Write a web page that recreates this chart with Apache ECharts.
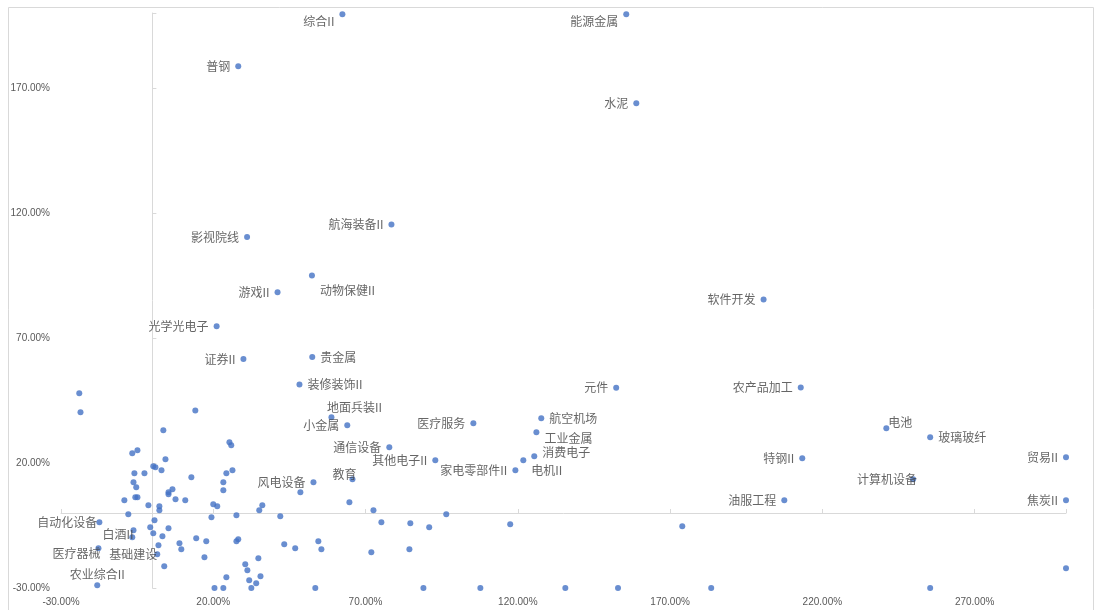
<!DOCTYPE html>
<html>
<head>
<meta charset="utf-8">
<title>行业散点</title>
<script src="https://cdn.jsdelivr.net/npm/echarts@6/dist/echarts.min.js"></script>
<style>
  html, body { margin: 0; padding: 0; background: #fff; }
  #chartScatter { width: 1096px; height: 610px; }
</style>
</head>
<body>
<div id="chartScatter"></div>
<script>
  'use strict'

  /******************** DATA (percent) ********************/
  var labelNames = ['综合II', '能源金属', '普钢', '水泥', '航海装备II', '影视院线', '动物保健II', '游戏II',
    '光学光电子', '证券II', '贵金属', '装修装饰II', '软件开发', '元件', '农产品加工', '地面兵装II',
    '小金属', '医疗服务', '航空机场', '工业金属', '通信设备', '消费电子', '其他电子II', '电机II',
    '家电零部件II', '教育', '风电设备', '自动化设备', '白酒II', '医疗器械', '基础建设', '农业综合II',
    '电池', '玻璃玻纤', '特钢II', '贸易II', '计算机设备', '油服工程', '焦炭II'];
  var labelX = [62.4, 155.6, 28.2, 158.9, 78.5, 31.1, 52.4, 41.1,
    21.1, 29.9, 52.5, 48.3, 200.7, 152.3, 212.9, 58.8,
    64.0, 105.4, 127.7, 126.1, 77.8, 125.4, 92.9, 121.8,
    119.2, 65.7, 52.9, -17.4, -6.2, -17.7, 1.6, -18.1,
    241.0, 255.4, 213.4, 300.0, 249.8, 207.5, 300.0];
  var labelY = [199.5, 199.5, 178.7, 163.9, 115.4, 110.4, 95.0, 88.3,
    74.7, 61.6, 62.4, 51.4, 85.4, 50.1, 50.2, 38.3,
    35.1, 35.9, 37.9, 32.3, 26.3, 22.7, 21.1, 21.1,
    17.1, 13.5, 12.3, -3.7, -6.9, -14.1, -16.5, -28.9,
    33.9, 30.3, 21.9, 22.3, 13.5, 5.1, 5.1];

  // unlabeled industries
  var otherX = [300, 255.4, 174, 20.4, 23.3, 32.5, 53.5, 89, 107.7, 135.6, 152.9, 183.5,
    64.7, 72.6, 75.2, 84.7, 90.9, 96.5, 117.5, 71.9, 84.4,
    14.1, 3.6, 25.3, 25.9, 4.3, 0.3, 1, 3, 26.3, 24.3, 12.8, 23.3, 6.6, 5.3, 5.3, 23.3,
    7.6, 10.8, 20, 21.3, 2.3, 2.3, 36.1, 35.1, 19.4, 27.6, 42, 0.7, -0.7, 5.3, 0.3, 3.3,
    14.4, 17.7, 28.2, 27.6, 8.9, 2, 9.5, 17.1, 3.9, 43.3, 46.9, 54.5, 55.5, 30.5, 31.2,
    34.8, 24.3, 35.5, 31.8, 34.1, 48.6,
    -24, -23.6, -6.6, -4.9, -5.9, -2.6, -6.2, -5.3, -5.6, -4.9, -9.2, -1.3, -7.9, -6.6];
  var otherY = [-22.1, -30, -5.3, -30, -30, -30, -30, -30, -30, -30, -30, -30,
    4.3, 1.1, -3.7, -4.1, -5.7, -0.5, -4.5, -15.7, -14.5,
    41, 33.1, 28.3, 27.1, 21.5, 18.7, 18.3, 17.1, 17.1, 15.9, 14.3, 12.3, 9.5, 8.3, 7.5, 9.1,
    5.5, 5.1, 3.5, 2.7, 2.7, 1.1, 3.1, 1.1, -1.7, -0.9, -1.3, -2.9, -5.7, -6.1, -8.1, -9.3,
    -10.1, -11.3, -10.5, -11.3, -12.1, -12.9, -14.5, -17.7, -21.3, -12.5, -14.1, -11.3, -14.5, -20.5, -22.9,
    -18.1, -25.7, -25.3, -26.9, -28.1, 8.3,
    47.9, 40.3, 23.9, 25.1, 15.9, 15.9, 12.3, 10.3, 6.3, 6.3, 5.1, 3.1, -0.5, -9.7];

  var xMin = -30, xMax = 300, yMin = -30, yMax = 200, step = 50;

  /******************** LABEL PLACEMENT ********************/
  // default: label on the left of the dot
  var labelLayout = {
    '综合II': ['left', [0, 7]],
    '能源金属': ['left', [0, 7]],
    '动物保健II': ['right', [0, 15]],
    '贵金属': ['right', [0, 0]],
    '装修装饰II': ['right', [0, 0]],
    '地面兵装II': ['top', [23, 4]],
    '航空机场': ['right', [0, 0]],
    '工业金属': ['right', [0, 6]],
    '消费电子': ['right', [0, -4]],
    '电机II': ['right', [0, 10]],
    '教育': ['left', [12, -5]],
    '自动化设备': ['left', [6, 0]],
    '白酒II': ['left', [8, 4]],
    '医疗器械': ['left', [10, 5]],
    '基础建设': ['left', [8, 0]],
    '农业综合II': ['top', [0, 3]],
    '电池': ['right', [-6, -6]],
    '玻璃玻纤': ['right', [0, 0]],
    '计算机设备': ['left', [12, 0]]
  };

  var labeled = labelNames.map(function (n, i) {
    var lay = labelLayout[n] || ['left', [0, 0]];
    return {
      name: n,
      value: [labelX[i], labelY[i]],
      label: { show: true, position: lay[0], offset: lay[1] }
    };
  });
  var others = otherX.map(function (x, i) { return [x, otherY[i]]; });

  var pct = function (v) { return v.toFixed(2) + '%'; };
  var tickFont = { fontSize: 10, color: '#595959', fontFamily: 'Liberation Sans' };
  var lineColor = '#d9d9d9';

  var chart = echarts.init(document.getElementById('chartScatter'));

  var option = {
    animation: false,
    backgroundColor: '#fff',
    grid: { left: 61, right: 30, top: 13, bottom: 22, outerBoundsMode: 'none' },
    graphic: [{
      type: 'rect',
      shape: { x: 8.5, y: 7.5, width: 1085, height: 640 },
      style: { fill: 'none', stroke: lineColor, lineWidth: 1 },
      silent: true
    }],
    xAxis: [{
      type: 'value', min: xMin, max: xMax, interval: step, position: 'bottom',
      axisLine: { show: false, onZero: false },
      axisTick: { show: false },
      splitLine: { show: false },
      axisLabel: Object.assign({ formatter: pct, showMaxLabel: false, margin: 9 }, tickFont)
    }, {
      type: 'value', min: xMin, max: xMax, interval: step, position: 'bottom',
      axisLine: { show: true, onZero: true, lineStyle: { color: lineColor } },
      axisTick: { show: true, inside: true, length: 4, lineStyle: { color: lineColor } },
      splitLine: { show: false },
      axisLabel: { show: false }
    }],
    yAxis: [{
      type: 'value', min: yMin, max: yMax, interval: step, position: 'left',
      axisLine: { show: false, onZero: false },
      axisTick: { show: false },
      splitLine: { show: false },
      axisLabel: Object.assign({ formatter: pct, showMaxLabel: false, margin: 11 }, tickFont)
    }, {
      type: 'value', min: yMin, max: yMax, interval: step, position: 'left',
      axisLine: { show: true, onZero: true, lineStyle: { color: lineColor } },
      axisTick: { show: true, inside: true, length: 4, lineStyle: { color: lineColor } },
      splitLine: { show: false },
      axisLabel: { show: false }
    }],
    series: [{
      type: 'scatter',
      xAxisIndex: 0, yAxisIndex: 0,
      clip: false,
      symbolSize: 6,
      itemStyle: { color: '#4472c4' },
      data: others
    }, {
      type: 'scatter',
      xAxisIndex: 0, yAxisIndex: 0,
      clip: false,
      symbolSize: 6,
      itemStyle: { color: '#4472c4' },
      label: {
        show: true,
        formatter: '{b}',
        distance: 5,
        fontSize: 12,
        color: '#404040',
        fontFamily: 'Noto Sans CJK SC'
      },
      data: labeled
    }]
  };

  chart.setOption(option);
</script>
</body>
</html>
